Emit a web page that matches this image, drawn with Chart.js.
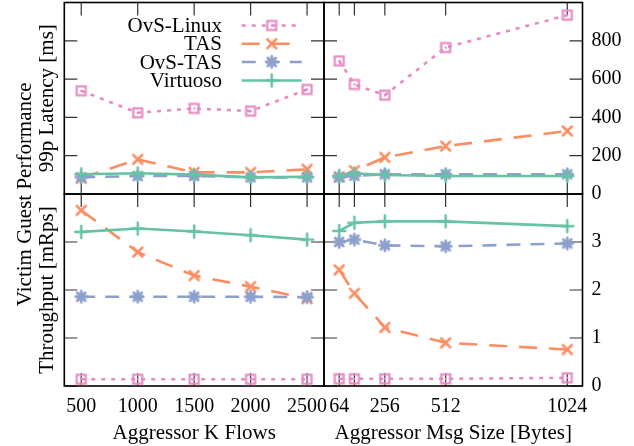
<!DOCTYPE html>
<html>
<head>
<meta charset="utf-8">
<script src="https://cdn.jsdelivr.net/npm/chart.js@4.4.1/dist/chart.umd.min.js"></script>
<style>
  body { margin: 0; background: #fff; }
  #wrap { position: relative; width: 634px; height: 446px; }
  #wrap canvas { position: absolute; left: 0; top: 0; }
</style>
</head>
<body>
<div id="wrap">
  <canvas id="latFlows" width="634" height="446"></canvas>
  <canvas id="latSize" width="634" height="446"></canvas>
  <canvas id="tputFlows" width="634" height="446"></canvas>
  <canvas id="tputSize" width="634" height="446"></canvas>
</div>
<script>
// x values
const flows = [500, 1000, 1500, 2000, 2500];
const msgSizes = [64, 128, 256, 512, 1024];
const latencyTicks = [0, 200, 400, 600, 800];
const throughputTicks = [0, 1, 2, 3];

const seriesNames = ["OvS-Linux", "TAS", "OvS-TAS", "Virtuoso"];

// 99p latency [ms] vs aggressor flows
const latFlowsOvsLinux = [539, 424, 447, 433, 546];
const latFlowsTas = [82, 181, 113, 113, 129];
const latFlowsOvsTas = [87, 94, 94, 87, 87];
const latFlowsVirtuoso = [103, 108, 101, 87, 90];

// 99p latency [ms] vs msg size
const latSizeOvsLinux = [695, 572, 516, 765, 934];
const latSizeTas = [90, 122, 191, 250, 329];
const latSizeOvsTas = [87, 95, 103, 103, 103];
const latSizeVirtuoso = [95, 108, 99, 94, 94];

// throughput [mRps] vs aggressor flows
const tputFlowsOvsLinux = [0.14, 0.14, 0.14, 0.14, 0.14];
const tputFlowsTas = [3.66, 2.79, 2.3, 2.07, 1.82];
const tputFlowsOvsTas = [1.86, 1.86, 1.86, 1.86, 1.85];
const tputFlowsVirtuoso = [3.21, 3.28, 3.22, 3.14, 3.05];

// throughput [mRps] vs msg size
const tputSizeOvsLinux = [0.15, 0.15, 0.15, 0.15, 0.17];
const tputSizeTas = [2.42, 1.93, 1.22, 0.9, 0.76];
const tputSizeOvsTas = [3.0, 3.05, 2.93, 2.91, 2.97];
const tputSizeVirtuoso = [3.23, 3.4, 3.43, 3.43, 3.33];

const colors = ["#e78ac3", "#fc8d62", "#8da0cb", "#66c2a5"];
const dashes = [[4, 6], [18, 12], [14, 10], []];

// page layout (px)
const W = 634, H = 446;
const LEFT = 64.3, MID = 324, RIGHT = 582.5;
const TOP = 2.5, MIDY = 194, BOTTOM = 386;
const TICK = 13;
const FONT = "'Liberation Serif', 'DejaVu Serif', serif";
const TITLE_SIZE = 21;

Chart.defaults.font.family = FONT;
Chart.defaults.font.size = 20;
Chart.defaults.color = "#000";

function markerCanvas(draw) {
  const c = document.createElement("canvas");
  c.width = 18;
  c.height = 18;
  const g = c.getContext("2d");
  g.translate(9, 9);
  g.lineWidth = 2.5;
  g.lineCap = "round";
  draw(g);
  return c;
}

function strokeLines(g, segs) {
  g.beginPath();
  segs.forEach((s) => {
    g.moveTo(s[0], s[1]);
    g.lineTo(s[2], s[3]);
  });
  g.stroke();
}

const markers = [
  markerCanvas((g) => {
    g.strokeStyle = colors[0];
    g.lineWidth = 2.2;
    g.strokeRect(-4.5, -4.5, 9, 9);
    g.fillStyle = colors[0];
    g.fillRect(-1, -1, 2, 2);
  }),
  markerCanvas((g) => {
    g.strokeStyle = colors[1];
    strokeLines(g, [[-4.5, -4.5, 4.5, 4.5], [-4.5, 4.5, 4.5, -4.5]]);
  }),
  markerCanvas((g) => {
    g.strokeStyle = colors[2];
    g.lineWidth = 2.8;
    strokeLines(g, [[-5.5, 0, 5.5, 0], [0, -5.5, 0, 5.5], [-4, -4, 4, 4], [-4, 4, 4, -4]]);
  }),
  markerCanvas((g) => {
    g.strokeStyle = colors[3];
    strokeLines(g, [[-6, 0, 6, 0], [0, -6, 0, 6]]);
  }),
];

// frame and inward ticks on all four sides
const framePlugin = {
  id: "frame",
  beforeDatasetsDraw(chart) {
    const { ctx, chartArea: a, scales } = chart;
    ctx.save();
    ctx.strokeStyle = "#333";
    ctx.lineWidth = 1.2;
    ctx.beginPath();
    scales.x.ticks.forEach((t) => {
      const px = scales.x.getPixelForValue(t.value);
      ctx.moveTo(px, a.bottom);
      ctx.lineTo(px, a.bottom - TICK);
      ctx.moveTo(px, a.top);
      ctx.lineTo(px, a.top + TICK);
    });
    scales.y.ticks.forEach((t) => {
      const py = scales.y.getPixelForValue(t.value);
      ctx.moveTo(a.left, py);
      ctx.lineTo(a.left + TICK, py);
      ctx.moveTo(a.right, py);
      ctx.lineTo(a.right - TICK, py);
    });
    ctx.stroke();
    ctx.strokeStyle = "#000";
    ctx.lineWidth = 1.6;
    ctx.strokeRect(a.left, a.top, a.width, a.height);
    ctx.restore();
  },
};

// legend inside the top-left panel + shared y title
const legendPlugin = {
  id: "sideLegend",
  afterDraw(chart) {
    const ctx = chart.ctx;
    const rows = [25.5, 43.7, 62, 80.5];
    ctx.save();
    ctx.font = TITLE_SIZE + "px " + FONT;
    ctx.fillStyle = "#000";
    ctx.textAlign = "right";
    ctx.textBaseline = "middle";
    seriesNames.forEach((name, i) => {
      const y = rows[i];
      ctx.fillText(name, 222, y + 1);
      ctx.strokeStyle = colors[i];
      ctx.lineWidth = 2.6;
      ctx.setLineDash(dashes[i]);
      ctx.beginPath();
      ctx.moveTo(241.7, y);
      ctx.lineTo(301.7, y);
      ctx.stroke();
      ctx.setLineDash([]);
      ctx.drawImage(markers[i], 271.7 - 9, y - 9);
    });
    ctx.translate(25, (TOP + BOTTOM) / 2);
    ctx.rotate(-Math.PI / 2);
    ctx.textAlign = "center";
    ctx.fillText("Victim Guest Performance", 0, 0);
    ctx.restore();
  },
};

function makePanel(id, p) {
  const col0 = p.col === 0;
  const row0 = p.row === 0;
  const zeroPad = (s) => {
    s.paddingLeft = 0;
    s.paddingRight = 0;
    s.paddingTop = 0;
    s.paddingBottom = 0;
  };
  const datasets = p.series.map((vals, i) => ({
    label: seriesNames[i],
    data: p.xs.map((x, k) => ({ x: x, y: vals[k] })),
    borderColor: colors[i],
    backgroundColor: colors[i],
    borderWidth: 2.6,
    borderDash: dashes[i],
    pointStyle: markers[i],
    pointRadius: 5,
    tension: 0,
    order: 3 - i,
  }));
  return new Chart(document.getElementById(id), {
    type: "line",
    data: { datasets: datasets },
    options: {
      responsive: false,
      animation: false,
      events: [],
      layout: {
        autoPadding: false,
        padding: {
          left: col0 ? 0 : MID,
          right: col0 ? W - MID : 0,
          top: row0 ? TOP : MIDY,
          bottom: row0 ? H - MIDY : 0,
        },
      },
      plugins: { legend: { display: false }, tooltip: { enabled: false } },
      scales: {
        x: {
          type: "linear",
          min: p.xMin,
          max: p.xMax,
          afterBuildTicks: (s) => {
            s.ticks = p.xs.map((v) => ({ value: v }));
          },
          afterFit: (s) => {
            s.height = row0 ? 0 : H - BOTTOM;
            zeroPad(s);
          },
          grid: { display: false, drawTicks: false },
          border: { display: false },
          ticks: {
            display: !row0,
            padding: 9,
            autoSkip: false,
            maxRotation: 0,
            callback: (v) => (v === 128 ? "" : v),
          },
          title: {
            display: !row0,
            text: p.xTitle,
            font: { size: TITLE_SIZE },
            padding: { top: 0, bottom: 0 },
          },
        },
        y: {
          position: col0 ? "left" : "right",
          min: p.yMin,
          max: p.yMax,
          afterBuildTicks: (s) => {
            s.ticks = p.yTicks.map((v) => ({ value: v }));
          },
          afterFit: (s) => {
            s.width = col0 ? LEFT : W - RIGHT;
            zeroPad(s);
          },
          grid: { display: false, drawTicks: false },
          border: { display: false },
          ticks: { display: !col0, padding: 9 },
          title: {
            display: col0,
            text: p.yTitle,
            font: { size: TITLE_SIZE },
            padding: { top: 35, bottom: 0 },
          },
        },
      },
    },
    plugins: p.extra ? [framePlugin, p.extra] : [framePlugin],
  });
}

makePanel("latFlows", {
  col: 0, row: 0, xs: flows, xMin: 350, xMax: 2650,
  yMin: 0, yMax: 1000, yTicks: latencyTicks, yTitle: "99p Latency [ms]",
  series: [latFlowsOvsLinux, latFlowsTas, latFlowsOvsTas, latFlowsVirtuoso],
  extra: legendPlugin,
});
makePanel("latSize", {
  col: 1, row: 0, xs: msgSizes, xMin: 0, xMax: 1088,
  yMin: 0, yMax: 1000, yTicks: latencyTicks,
  series: [latSizeOvsLinux, latSizeTas, latSizeOvsTas, latSizeVirtuoso],
});
makePanel("tputFlows", {
  col: 0, row: 1, xs: flows, xMin: 350, xMax: 2650, xTitle: "Aggressor K Flows",
  yMin: 0, yMax: 4, yTicks: throughputTicks, yTitle: "Throughput [mRps]",
  series: [tputFlowsOvsLinux, tputFlowsTas, tputFlowsOvsTas, tputFlowsVirtuoso],
});
makePanel("tputSize", {
  col: 1, row: 1, xs: msgSizes, xMin: 0, xMax: 1088, xTitle: "Aggressor Msg Size [Bytes]",
  yMin: 0, yMax: 4, yTicks: throughputTicks,
  series: [tputSizeOvsLinux, tputSizeTas, tputSizeOvsTas, tputSizeVirtuoso],
});
</script>
</body>
</html>
